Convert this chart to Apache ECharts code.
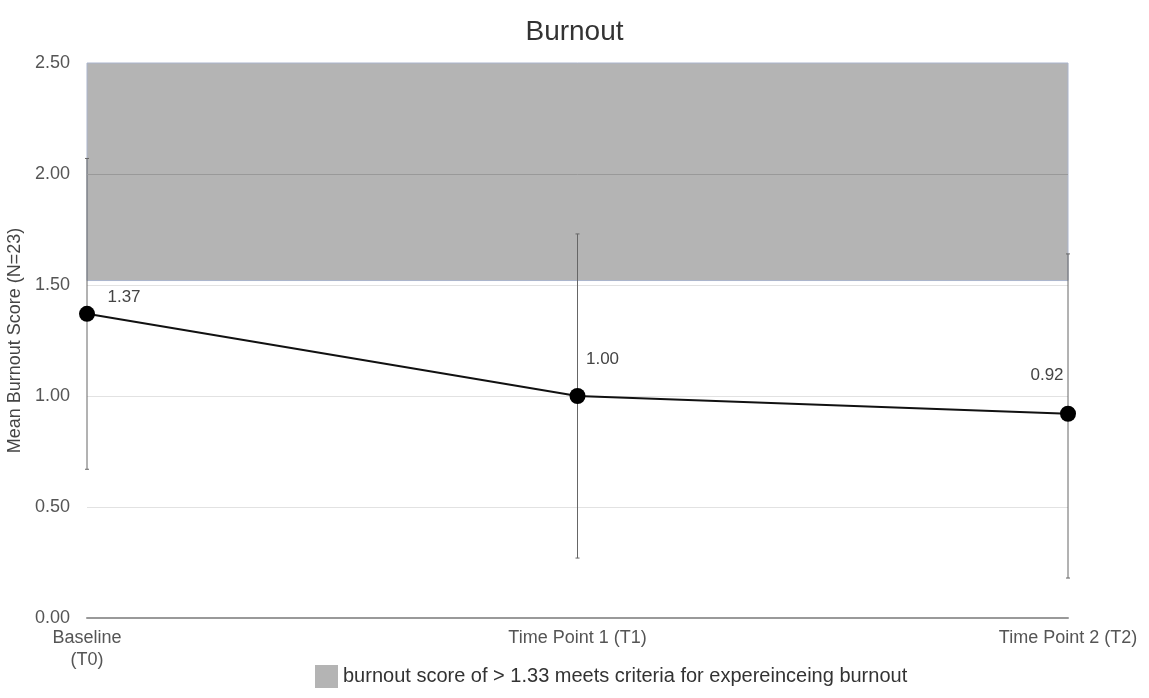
<!DOCTYPE html>
<html>
<head>
<meta charset="utf-8">
<script src="https://cdn.jsdelivr.net/npm/echarts@6/dist/echarts.min.js"></script>
<style>html,body{margin:0;padding:0;background:#fff}#c{width:1149px;height:698px}</style>
</head>
<body>
<div id="c"></div>
<script>
var categories = ['Baseline\n(T0)', 'Time Point 1 (T1)', 'Time Point 2 (T2)'];
var means = [1.37, 1.00, 0.92];
var errLow = [0.67, 0.27, 0.18];
var errHigh = [2.07, 1.73, 1.64];
var burnoutZone = [1.52, 2.5];
var yTicks = [0, 0.5, 1.0, 1.5, 2.0, 2.5];
var legendText = 'burnout score of > 1.33 meets criteria for expereinceing burnout';

var font = 'Liberation Sans, Arial, sans-serif';
var labelOffsets = [[37, 5], [25, -15], [-21, -17]];

var chart = echarts.init(document.getElementById('c'));
var errData = categories.map(function (c, i) { return [i, errLow[i], errHigh[i]]; });
var lineData = means.map(function (v, i) {
  return { value: v, label: { offset: labelOffsets[i] } };
});

chart.setOption({
  animation: false,
  textStyle: { fontFamily: font },
  title: {
    text: 'Burnout', left: 'center', top: 13,
    textStyle: { fontSize: 28, fontWeight: 'normal', color: '#333', fontFamily: font }
  },
  legend: {
    data: [{ name: legendText, icon: 'rect' }],
    bottom: 5, left: 310,
    itemWidth: 23, itemHeight: 23, itemGap: 9,
    textStyle: { fontSize: 20, color: '#333', fontFamily: font }
  },
  grid: { left: 87, right: 81, top: 63, bottom: 80, containLabel: false, outerBoundsMode: 'none' },
  xAxis: {
    type: 'category', data: categories, boundaryGap: false,
    axisLine: { lineStyle: { color: '#999', width: 2 } },
    axisTick: { show: false },
    axisLabel: { color: '#555', fontSize: 18, margin: 9, fontFamily: font, lineHeight: 22 },
    splitLine: { show: false }
  },
  yAxis: {
    type: 'value', min: 0, max: 2.5, interval: 0.5,
    name: 'Mean Burnout Score (N=23)', nameLocation: 'middle', nameRotate: 90, nameGap: 56,
    nameTextStyle: { fontSize: 18, color: '#444', fontFamily: font },
    axisLine: { show: false }, axisTick: { show: false },
    axisLabel: { color: '#555', fontSize: 18, margin: 17, fontFamily: font,
      formatter: function (v) { return v.toFixed(2); } },
    splitLine: { lineStyle: { color: '#e2e2e2', width: 1 } }
  },
  series: [
    {
      name: legendText, type: 'line', data: [],
      itemStyle: { color: '#b4b4b4' },
      markArea: {
        silent: true,
        itemStyle: { color: '#b4b4b4', borderColor: '#aab4cc', borderWidth: 1 },
        data: [[{ yAxis: burnoutZone[0] }, { yAxis: burnoutZone[1] }]]
      },
      markLine: {
        silent: true, symbol: 'none', label: { show: false },
        lineStyle: { color: '#999', type: 'solid', width: 1 },
        data: yTicks.filter(function (t) { return t > burnoutZone[0] && t < burnoutZone[1]; })
          .map(function (t) { return { yAxis: t }; })
      },
      z: 1
    },
    {
      name: 'err', type: 'custom', data: errData, z: 3,
      renderItem: function (params, api) {
        var x = api.value(0);
        var lo = api.coord([x, api.value(1)]);
        var hi = api.coord([x, api.value(2)]);
        var w = 2;
        var st = { stroke: '#666', lineWidth: 1 };
        return {
          type: 'group', children: [
            { type: 'line', shape: { x1: lo[0], y1: lo[1], x2: hi[0], y2: hi[1] }, style: st },
            { type: 'line', shape: { x1: lo[0] - w, y1: lo[1], x2: lo[0] + w, y2: lo[1] }, style: st },
            { type: 'line', shape: { x1: hi[0] - w, y1: hi[1], x2: hi[0] + w, y2: hi[1] }, style: st }
          ]
        };
      }
    },
    {
      name: 'mean', type: 'line', data: lineData, z: 5,
      symbol: 'circle', symbolSize: 16,
      itemStyle: { color: '#000' },
      lineStyle: { color: '#111', width: 2 },
      label: {
        show: true, position: 'top', color: '#444', fontSize: 17, fontFamily: font,
        formatter: function (p) { return p.value.toFixed(2); }
      }
    }
  ]
});
</script>
</body>
</html>
